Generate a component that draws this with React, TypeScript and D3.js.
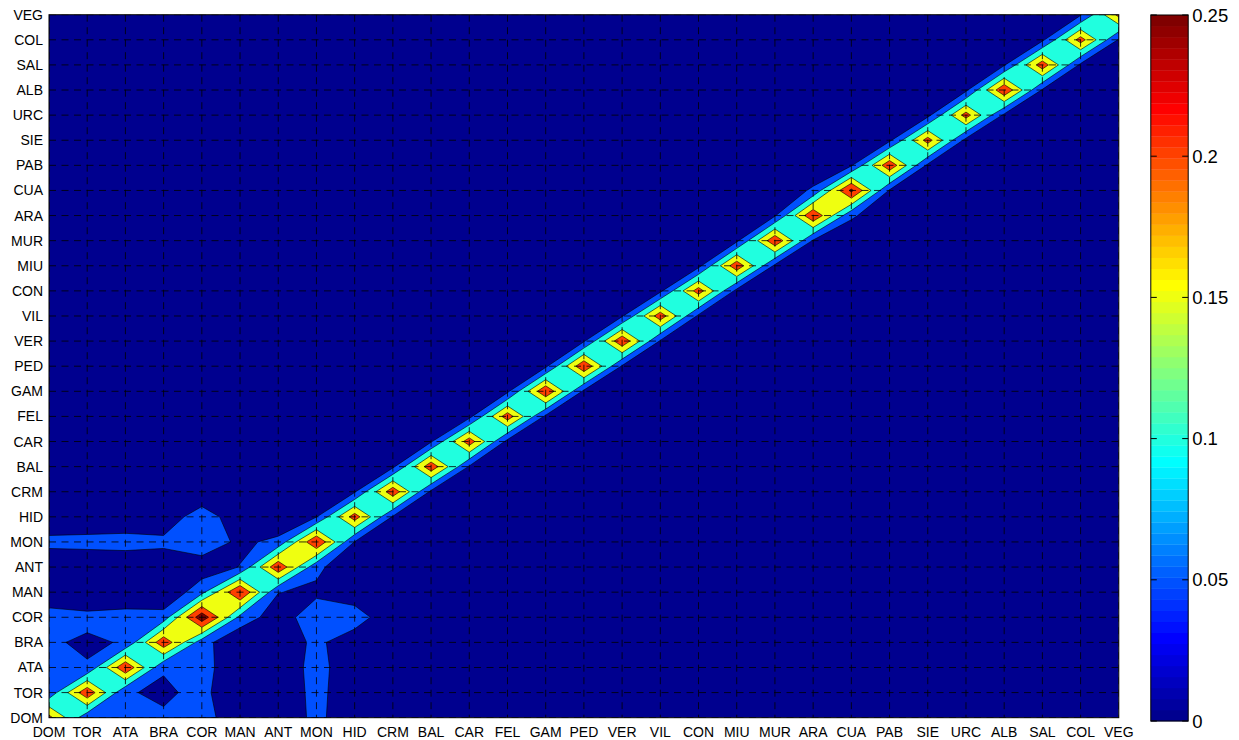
import React from 'react';
import * as d3 from 'd3';

// Station codes, in axis order (bottom-to-top on y, left-to-right on x)
const labels = ['DOM', 'TOR', 'ATA', 'BRA', 'COR', 'MAN', 'ANT', 'MON', 'HID', 'CRM', 'BAL', 'CAR', 'FEL', 'GAM', 'PED', 'VER', 'VIL', 'CON', 'MIU', 'MUR', 'ARA', 'CUA', 'PAB', 'SIE', 'URC', 'ALB', 'SAL', 'COL', 'VEG'];

// Self value of each station (matrix diagonal)
const diagonal = [0.215, 0.238, 0.243, 0.237, 0.285, 0.253, 0.240, 0.248, 0.225, 0.234, 0.235, 0.228, 0.228, 0.245, 0.243, 0.240, 0.229, 0.225, 0.236, 0.241, 0.245, 0.262, 0.238, 0.222, 0.222, 0.244, 0.230, 0.222, 0.215];

// Value between each station and the next one along the axis
const adjacent = [0.065, 0.055, 0.055, 0.072, 0.086, 0.052, 0.065, 0.048, 0.045, 0.040, 0.045, 0.035, 0.040, 0.040, 0.045, 0.045, 0.040, 0.035, 0.040, 0.045, 0.060, 0.045, 0.040, 0.035, 0.040, 0.045, 0.040, 0.045];

// Remaining non-zero pairs [stationA, stationB, value]; the matrix is symmetric
const pairs: [number, number, number][] = [
  [0, 2, 0.065], [0, 3, 0.058], [0, 4, 0.080], [1, 3, 0.040], [1, 4, 0.066], [2, 4, 0.075],
  [0, 6, 0.010], [1, 6, 0.010], [2, 6, 0.010], [3, 6, 0.010],
  [0, 7, 0.064], [1, 7, 0.067], [2, 7, 0.071], [3, 7, 0.064],
  [0, 8, 0.010], [1, 8, 0.010], [2, 8, 0.010], [3, 8, 0.010],
  [4, 6, 0.017], [4, 7, 0.090], [4, 8, 0.085], [5, 7, 0.037], [5, 8, 0.010],
];

const levels = [0, 0.05, 0.1, 0.15, 0.2, 0.25];
const colorTicks = [0, 0.05, 0.1, 0.15, 0.2, 0.25];
const colorLimits = [0, 0.25];

const W = 1239;
const H = 740;
const plot = { left: 49, right: 1118.8, top: 14.7, bottom: 717.7 };
const bar = { left: 1150.8, right: 1188.2, top: 15, bottom: 721 };
const FONT = "'Liberation Sans', Arial, Helvetica, sans-serif";

// MATLAB-style 64-entry jet colormap
function jet64(k: number): string {
  const m = 64;
  const n = Math.ceil(m / 4);
  const u: number[] = [];
  for (let i = 1; i <= n; i++) u.push(i / n);
  for (let i = 0; i < n - 1; i++) u.push(1);
  for (let i = n; i >= 1; i--) u.push(i / n);
  const off = Math.ceil(n / 2) - (m % 4 === 1 ? 1 : 0);
  const gi = k - off; // index into u for green
  const ri = k - off - n;
  const bi = k - off + n;
  const pick = (j: number) => (j >= 1 && j <= u.length ? u[j - 1] : 0);
  const r = k >= 1 + off + n ? pick(ri) : 0;
  const g = k >= 1 + off && k <= off + u.length ? pick(gi) : 0;
  const b = k <= off - n + u.length ? pick(bi) : 0;
  return d3.rgb(r * 255, g * 255, b * 255).formatHex();
}

function colorFor(v: number): string {
  const t = (v - colorLimits[0]) / (colorLimits[1] - colorLimits[0]);
  const k = Math.max(1, Math.min(64, Math.floor(t * 64 + 1e-9) + 1));
  return jet64(k);
}

function buildMatrix(): number[][] {
  const n = labels.length;
  const z = Array.from({ length: n }, () => new Array(n).fill(0));
  diagonal.forEach((v, i) => { z[i][i] = v; });
  adjacent.forEach((v, i) => { z[i][i + 1] = v; z[i + 1][i] = v; });
  pairs.forEach(([a, b, v]) => { z[a][b] = v; z[b][a] = v; });
  return z;
}

type Pt = [number, number];

// Marching squares on the grid: filled region z >= L and its contour segments
function contourLevel(z: number[][], L: number) {
  const n = z.length;
  const polys: Pt[][] = [];
  const segs: [Pt, Pt][] = [];
  for (let j = 0; j < n - 1; j++) {
    for (let i = 0; i < n - 1; i++) {
      const c: Pt[] = [[i, j], [i + 1, j], [i + 1, j + 1], [i, j + 1]];
      const v = [z[j][i], z[j][i + 1], z[j + 1][i + 1], z[j + 1][i]];
      const inn = v.map((x) => x >= L);
      const count = inn.filter(Boolean).length;
      if (count === 0) continue;
      if (count === 4) { polys.push(c); continue; }
      const cross = (a: number, b: number): Pt => {
        const t = (L - v[a]) / (v[b] - v[a]);
        return [c[a][0] + t * (c[b][0] - c[a][0]), c[a][1] + t * (c[b][1] - c[a][1])];
      };
      const saddle = inn[0] === inn[2] && inn[1] === inn[3] && inn[0] !== inn[1];
      const center = (v[0] + v[1] + v[2] + v[3]) / 4;
      const clip = () => {
        const p: Pt[] = [];
        for (let k = 0; k < 4; k++) {
          const a = k, b = (k + 1) % 4;
          if (inn[a]) p.push(c[a]);
          if (inn[a] !== inn[b]) p.push(cross(a, b));
        }
        return p;
      };
      const corner = (k: number): [Pt, Pt] => [cross((k + 3) % 4, k), cross(k, (k + 1) % 4)];
      if (saddle) {
        const highs = inn[0] ? [0, 2] : [1, 3];
        const lows = inn[0] ? [1, 3] : [0, 2];
        if (center >= L) {
          polys.push(clip());
          lows.forEach((k) => segs.push(corner(k)));
        } else {
          highs.forEach((k) => {
            const [p, q] = corner(k);
            polys.push([p, c[k], q]);
            segs.push([p, q]);
          });
        }
      } else {
        polys.push(clip());
        const pts: Pt[] = [];
        for (let k = 0; k < 4; k++) {
          const b = (k + 1) % 4;
          if (inn[k] !== inn[b]) pts.push(cross(k, b));
        }
        if (pts.length === 2) segs.push([pts[0], pts[1]]);
      }
    }
  }
  return { polys, segs };
}

export default function App() {
  const z = buildMatrix();
  const n = labels.length;
  const x = d3.scaleLinear().domain([0, n - 1]).range([plot.left, plot.right]);
  const y = d3.scaleLinear().domain([0, n - 1]).range([plot.bottom, plot.top]);
  const cb = d3.scaleLinear().domain(colorLimits).range([bar.bottom, bar.top]);
  const f = (p: Pt) => `${x(p[0]).toFixed(2)},${y(p[1]).toFixed(2)}`;

  const layers = levels.map((L) => {
    const { polys, segs } = contourLevel(z, L);
    const fill = polys.map((p) => 'M' + p.map(f).join('L') + 'Z').join('');
    const line = segs.map(([a, b]) => `M${f(a)}L${f(b)}`).join('');
    return { L, fill, line, color: colorFor(L) };
  });

  const cbSteps = d3.range(64);
  const step = (colorLimits[1] - colorLimits[0]) / 64;
  const idx = d3.range(n);

  return (
    <svg width={W} height={H} style={{ position: 'absolute', left: 0, top: 0, background: '#fff' }}>
      <defs>
        <clipPath id="plotClip">
          <rect x={plot.left} y={plot.top} width={plot.right - plot.left} height={plot.bottom - plot.top} />
        </clipPath>
      </defs>
      <rect x={0} y={0} width={W} height={H} fill="#fff" />
      <g clipPath="url(#plotClip)">
        {layers.map((l) => (
          <path key={'f' + l.L} d={l.fill} fill={l.color} stroke="none" />
        ))}
        {layers.filter((l) => l.L > 0).map((l) => (
          <path key={'c' + l.L} d={l.line} fill="none" stroke="#000" strokeWidth={0.6} />
        ))}
        {idx.map((i) => (
          <line key={'gx' + i} x1={x(i)} x2={x(i)} y1={plot.top} y2={plot.bottom} stroke="#000" strokeWidth={0.8} strokeDasharray="7,5.5" />
        ))}
        {idx.map((i) => (
          <line key={'gy' + i} x1={plot.left} x2={plot.right} y1={y(i)} y2={y(i)} stroke="#000" strokeWidth={0.8} strokeDasharray="7,5.5" />
        ))}
      </g>
      <rect x={plot.left} y={plot.top} width={plot.right - plot.left} height={plot.bottom - plot.top} fill="none" stroke="#000" strokeWidth={1} />
      <g fontFamily={FONT} fontSize={14} fill="#000">
        {labels.map((lab, i) => (
          <text key={'yl' + i} x={plot.left - 6} y={y(i)} textAnchor="end" dominantBaseline="central">{lab}</text>
        ))}
        {labels.map((lab, i) => (
          <text key={'xl' + i} x={x(i)} y={736.7} textAnchor="middle">{lab}</text>
        ))}
      </g>
      <g>
        {cbSteps.map((k) => (
          <rect key={'cb' + k} x={bar.left} width={bar.right - bar.left}
            y={cb((k + 1) * step)} height={cb(k * step) - cb((k + 1) * step) + 0.3}
            fill={jet64(k + 1)} />
        ))}
        <rect x={bar.left} y={bar.top} width={bar.right - bar.left} height={bar.bottom - bar.top} fill="none" stroke="#000" strokeWidth={1} />
        {colorTicks.map((t) => (
          <g key={'ct' + t}>
            <line x1={bar.left} x2={bar.left + 6} y1={cb(t)} y2={cb(t)} stroke="#000" strokeWidth={1} />
            <line x1={bar.right - 6} x2={bar.right} y1={cb(t)} y2={cb(t)} stroke="#000" strokeWidth={1} />
            <text x={bar.right + 4} y={cb(t)} dominantBaseline="central" fontFamily={FONT} fontSize={18.5} fill="#000">{String(t)}</text>
          </g>
        ))}
      </g>
    </svg>
  );
}
